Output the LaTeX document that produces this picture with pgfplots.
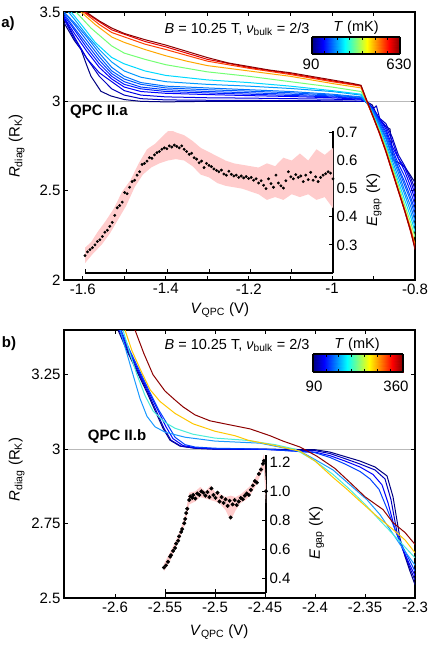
\documentclass[border=0pt]{standalone}
\usepackage{fontspec}
\setmainfont{Liberation Sans}
\usepackage{pgfplots}
\pgfplotsset{compat=1.18}

\definecolor{cA}{rgb}{0,0,0.5}
\definecolor{cB}{rgb}{0,0,0.75}
\definecolor{cC}{rgb}{0,0,0.9}
\definecolor{cD}{rgb}{0,0,1}
\definecolor{cE}{rgb}{0,0.12,1}
\definecolor{cF}{rgb}{0,0.25,1}
\definecolor{cG}{rgb}{0,0.35,1}
\definecolor{cH}{rgb}{0,0.45,1}
\definecolor{cI}{rgb}{0,0.6,1}
\definecolor{cJ}{rgb}{0,0.85,1}
\definecolor{cK}{rgb}{0.45,1,0.45}
\definecolor{cL}{rgb}{1,0.65,0}
\definecolor{cM}{rgb}{1,0.25,0}
\definecolor{cN}{rgb}{0.9,0,0}
\definecolor{cO}{rgb}{0.55,0,0}
\definecolor{byel}{rgb}{1,0.78,0}
\definecolor{bcyan}{rgb}{0.3,0.93,0.85}
\definecolor{blight}{rgb}{0.1,0.6,1}
\definecolor{bandpink}{rgb}{1,0.8,0.8}

\newcommand{\fs}{\fontsize{15}{17}\selectfont}
\newcommand{\fst}{\fontsize{14.5}{17}\selectfont}

\pgfplotsset{
  mainax/.style={
    scale only axis, width=351pt, height=268pt, anchor=north west,
    axis line style={line width=1.2pt},
    tick style={line width=0.8pt, black},
    tick align=inside, major tick length=4pt, minor tick length=4pt,
    tick label style={font=\fs},
    label style={font=\fs},
    /pgf/number format/assume math mode=true,
    extra y ticks={3}, extra y tick labels={},
    extra y tick style={grid=major, major grid style={gray!55, line width=0.7pt}},
    every axis plot/.append style={line width=1pt, line join=round, mark=none},
  },
  insetax/.style={
    scale only axis, anchor=north west,
    axis x line=bottom, axis y line=right,
    axis line style={-, line width=1.2pt},
    x axis line style={-}, y axis line style={-},
    tick style={line width=0.8pt, black},
    tick align=inside, major tick length=4pt,
    xticklabels={},
    tick label style={font=\fs},
    label style={font=\fs},
    /pgf/number format/assume math mode=true,
    yticklabel style={/pgf/number format/.cd, fixed, fixed zerofill, precision=1},
  },
  cbar/.style={
    scale only axis, anchor=north west, view={0}{90},
    ymin=0, ymax=1, ytick=\empty, colormap/jet,
    axis line style={line width=1.2pt},
    tick style={line width=0.7pt, black},
    tick align=inside, major tick length=3pt,
    extra x tick style={tick align=inside, major tick length=3pt},
    xticklabels={}, extra x tick labels={},
  },
}

\begin{document}
\begin{tikzpicture}
\useasboundingbox (0,0) rectangle (436pt,-653pt);

% ---------------- panel a ----------------
\begin{axis}[mainax, at={(64pt,-12pt)},
  xmin=-1.645, xmax=-0.8, ymin=2, ymax=3.5,
  xtick={-1.6,-1.4,-1.2,-1,-0.8}, minor x tick num=1,
  ytick={2,2.5,3,3.5},
  xlabel={\textit{V}\textsubscript{QPC} (V)},
  ylabel={\textit{R}\textsubscript{diag} (R\textsubscript{K})},
  xlabel style={at={(axis description cs:0.444,-0.112)}, anchor=center},
  ylabel style={at={(axis description cs:-0.135,0.5)}, anchor=center},
]
\addplot[cA] coordinates {(-1.645,3.44) (-1.635,3.40) (-1.62,3.34) (-1.604,3.29) (-1.59,3.20) (-1.58,3.14) (-1.556,3.056) (-1.532,3.03) (-1.50,3.01) (-1.46,3.0) (-1.40,2.997) (-1.30,3.0) (-1.20,3.0) (-1.10,3.0) (-1.00,3.0) (-0.93,3.0) (-0.918,3.0) (-0.903,2.98) (-0.896,2.945) (-0.885,2.90) (-0.872,2.86) (-0.86,2.845) (-0.853,2.67) (-0.841,2.66) (-0.824,2.63) (-0.812,2.59) (-0.80,2.545)};
\addplot[cB] coordinates {(-1.645,3.47) (-1.62,3.36) (-1.59,3.24) (-1.56,3.14) (-1.53,3.07) (-1.50,3.035) (-1.46,3.015) (-1.40,3.008) (-1.30,3.006) (-1.20,3.005) (-1.10,3.004) (-1.00,3.003) (-0.93,3.0) (-0.92,3.0) (-0.91,2.985) (-0.90,2.96) (-0.893,2.975) (-0.885,2.905) (-0.87,2.875) (-0.855,2.80) (-0.84,2.70) (-0.825,2.64) (-0.81,2.57) (-0.80,2.51)};
\addplot[cC] coordinates {(-1.645,3.46) (-1.62,3.35) (-1.59,3.24) (-1.56,3.16) (-1.53,3.11) (-1.50,3.06) (-1.46,3.035) (-1.40,3.025) (-1.30,3.02) (-1.20,3.018) (-1.10,3.015) (-1.00,3.012) (-0.93,3.008) (-0.92,3.0) (-0.91,2.985) (-0.90,2.955) (-0.885,2.90) (-0.87,2.86) (-0.855,2.78) (-0.84,2.68) (-0.825,2.63) (-0.81,2.55) (-0.80,2.48)};
\addplot[cD] coordinates {(-1.645,3.47) (-1.62,3.38) (-1.59,3.28) (-1.56,3.19) (-1.53,3.125) (-1.50,3.08) (-1.46,3.055) (-1.40,3.045) (-1.30,3.038) (-1.20,3.032) (-1.10,3.027) (-1.00,3.02) (-0.93,3.012) (-0.92,3.0) (-0.91,2.98) (-0.90,2.955) (-0.885,2.90) (-0.87,2.845) (-0.855,2.75) (-0.84,2.68) (-0.825,2.61) (-0.81,2.52) (-0.80,2.45)};
\addplot[cE] coordinates {(-1.645,3.48) (-1.62,3.40) (-1.59,3.30) (-1.56,3.21) (-1.53,3.14) (-1.50,3.095) (-1.46,3.07) (-1.40,3.055) (-1.30,3.047) (-1.20,3.04) (-1.10,3.033) (-1.00,3.025) (-0.93,3.015) (-0.92,3.0) (-0.91,2.98) (-0.90,2.95) (-0.885,2.89) (-0.87,2.83) (-0.855,2.735) (-0.84,2.65) (-0.825,2.58) (-0.81,2.49) (-0.80,2.42)};
\addplot[cF] coordinates {(-1.645,3.49) (-1.62,3.41) (-1.59,3.32) (-1.56,3.23) (-1.53,3.155) (-1.50,3.11) (-1.46,3.08) (-1.40,3.065) (-1.30,3.055) (-1.20,3.048) (-1.10,3.04) (-1.00,3.03) (-0.93,3.018) (-0.92,3.0) (-0.91,2.975) (-0.90,2.95) (-0.885,2.885) (-0.87,2.815) (-0.855,2.72) (-0.84,2.63) (-0.825,2.55) (-0.81,2.46) (-0.80,2.39)};
\addplot[cG] coordinates {(-1.645,3.50) (-1.62,3.43) (-1.59,3.34) (-1.56,3.25) (-1.53,3.17) (-1.50,3.125) (-1.46,3.095) (-1.40,3.075) (-1.30,3.065) (-1.20,3.057) (-1.10,3.048) (-1.00,3.035) (-0.93,3.022) (-0.92,3.0) (-0.91,2.975) (-0.90,2.945) (-0.885,2.875) (-0.87,2.80) (-0.855,2.70) (-0.84,2.62) (-0.825,2.53) (-0.81,2.44) (-0.80,2.36)};
\addplot[cH] coordinates {(-1.645,3.50) (-1.62,3.44) (-1.59,3.36) (-1.56,3.27) (-1.53,3.19) (-1.50,3.14) (-1.46,3.105) (-1.40,3.085) (-1.30,3.075) (-1.20,3.065) (-1.10,3.055) (-1.00,3.04) (-0.93,3.025) (-0.92,3.0) (-0.91,2.975) (-0.90,2.94) (-0.885,2.865) (-0.87,2.79) (-0.855,2.69) (-0.84,2.60) (-0.825,2.50) (-0.81,2.41) (-0.80,2.33)};
\addplot[cI] coordinates {(-1.645,3.53) (-1.62,3.46) (-1.59,3.37) (-1.56,3.29) (-1.53,3.22) (-1.50,3.17) (-1.46,3.135) (-1.40,3.11) (-1.30,3.095) (-1.20,3.085) (-1.10,3.072) (-1.00,3.055) (-0.93,3.035) (-0.92,3.005) (-0.91,2.97) (-0.90,2.93) (-0.885,2.855) (-0.87,2.77) (-0.855,2.67) (-0.84,2.575) (-0.825,2.48) (-0.81,2.38) (-0.80,2.30)};
\addplot[cJ] coordinates {(-1.645,3.54) (-1.628,3.5) (-1.60,3.42) (-1.57,3.33) (-1.53,3.245) (-1.50,3.21) (-1.45,3.17) (-1.40,3.145) (-1.30,3.12) (-1.20,3.105) (-1.10,3.085) (-1.00,3.06) (-0.93,3.04) (-0.92,3.01) (-0.91,2.97) (-0.90,2.92) (-0.885,2.845) (-0.87,2.755) (-0.855,2.65) (-0.84,2.55) (-0.825,2.45) (-0.81,2.35) (-0.80,2.27)};
\addplot[cK] coordinates {(-1.645,3.57) (-1.616,3.5) (-1.58,3.41) (-1.53,3.31) (-1.50,3.27) (-1.45,3.235) (-1.40,3.205) (-1.35,3.185) (-1.30,3.165) (-1.20,3.14) (-1.10,3.11) (-1.00,3.08) (-0.93,3.055) (-0.92,3.015) (-0.91,2.965) (-0.90,2.915) (-0.885,2.835) (-0.87,2.74) (-0.855,2.635) (-0.84,2.53) (-0.825,2.42) (-0.81,2.32) (-0.80,2.24)};
\addplot[cL] coordinates {(-1.63,3.58) (-1.604,3.5) (-1.57,3.43) (-1.53,3.36) (-1.50,3.33) (-1.45,3.29) (-1.40,3.255) (-1.35,3.225) (-1.30,3.20) (-1.20,3.17) (-1.10,3.14) (-1.00,3.10) (-0.93,3.075) (-0.92,3.02) (-0.91,2.965) (-0.90,2.91) (-0.885,2.825) (-0.87,2.73) (-0.855,2.62) (-0.84,2.51) (-0.825,2.40) (-0.81,2.29) (-0.80,2.20)};
\addplot[cM] coordinates {(-1.625,3.58) (-1.598,3.5) (-1.56,3.43) (-1.53,3.385) (-1.45,3.32) (-1.40,3.29) (-1.30,3.225) (-1.20,3.185) (-1.10,3.15) (-1.00,3.11) (-0.93,3.085) (-0.92,3.02) (-0.91,2.965) (-0.90,2.91) (-0.885,2.82) (-0.87,2.72) (-0.855,2.61) (-0.84,2.50) (-0.825,2.39) (-0.81,2.275) (-0.80,2.19)};
\addplot[cN] coordinates {(-1.62,3.58) (-1.595,3.5) (-1.56,3.445) (-1.53,3.40) (-1.45,3.335) (-1.40,3.305) (-1.30,3.235) (-1.20,3.19) (-1.10,3.155) (-1.00,3.115) (-0.93,3.088) (-0.92,3.025) (-0.91,2.965) (-0.90,2.905) (-0.885,2.815) (-0.87,2.715) (-0.855,2.605) (-0.84,2.495) (-0.825,2.385) (-0.81,2.265) (-0.80,2.18)};
\addplot[cO] coordinates {(-1.62,3.58) (-1.592,3.5) (-1.56,3.45) (-1.53,3.41) (-1.50,3.38) (-1.45,3.345) (-1.40,3.315) (-1.35,3.28) (-1.30,3.245) (-1.25,3.215) (-1.20,3.195) (-1.15,3.175) (-1.10,3.16) (-1.05,3.14) (-1.00,3.12) (-0.95,3.10) (-0.93,3.09) (-0.92,3.03) (-0.91,2.97) (-0.90,2.91) (-0.885,2.82) (-0.87,2.72) (-0.855,2.61) (-0.84,2.50) (-0.825,2.39) (-0.81,2.27) (-0.80,2.17)};
\end{axis}

% inset a
\begin{axis}[insetax, at={(85pt,-131pt)}, width=248pt, height=142pt,
  xmin=-1.6, xmax=-1.0, ymin=0.2, ymax=0.705,
  xtick={-1.6,-1.5,-1.4,-1.3,-1.2,-1.1,-1.0},
  ytick={0.3,0.4,0.5,0.6,0.7},
  ylabel={\textit{E}\textsubscript{gap} (K)},
  ylabel style={at={(axis description cs:1.165,0.514)}, anchor=center},
]
\addplot[fill=bandpink, draw=none] coordinates {(-1.600,0.29) (-1.585,0.31) (-1.57,0.345) (-1.55,0.385) (-1.53,0.43) (-1.51,0.49) (-1.49,0.53) (-1.47,0.59) (-1.45,0.64) (-1.43,0.66) (-1.41,0.69) (-1.395,0.71) (-1.38,0.70) (-1.36,0.69) (-1.34,0.67) (-1.32,0.645) (-1.30,0.63) (-1.28,0.615) (-1.26,0.60) (-1.24,0.59) (-1.22,0.585) (-1.20,0.58) (-1.18,0.575) (-1.16,0.59) (-1.14,0.58) (-1.12,0.61) (-1.10,0.60) (-1.08,0.625) (-1.06,0.60) (-1.04,0.64) (-1.02,0.62) (-1.00,0.645) (-1.00,0.43) (-1.02,0.47) (-1.04,0.46) (-1.06,0.48) (-1.08,0.47) (-1.10,0.48) (-1.12,0.46) (-1.14,0.47) (-1.16,0.46) (-1.18,0.48) (-1.20,0.49) (-1.22,0.50) (-1.24,0.505) (-1.26,0.51) (-1.28,0.52) (-1.30,0.54) (-1.32,0.55) (-1.34,0.58) (-1.36,0.60) (-1.38,0.605) (-1.40,0.60) (-1.42,0.59) (-1.44,0.575) (-1.46,0.55) (-1.48,0.505) (-1.50,0.44) (-1.52,0.39) (-1.54,0.34) (-1.56,0.30) (-1.58,0.27) (-1.60,0.235)} -- cycle;
\addplot[only marks, mark=*, mark size=1.25pt, black] coordinates {
(-1.600,0.262) (-1.594,0.275) (-1.588,0.283) (-1.582,0.290) (-1.576,0.300) (-1.570,0.312) (-1.564,0.318) (-1.558,0.330) (-1.552,0.345) (-1.546,0.352)
(-1.540,0.366) (-1.534,0.380) (-1.528,0.405) (-1.522,0.432) (-1.516,0.440) (-1.510,0.452) (-1.504,0.486) (-1.498,0.482) (-1.492,0.505) (-1.486,0.525)
(-1.480,0.530) (-1.474,0.548) (-1.468,0.560) (-1.462,0.586) (-1.456,0.590) (-1.450,0.598) (-1.444,0.610) (-1.438,0.608) (-1.432,0.620) (-1.426,0.628)
(-1.420,0.632) (-1.414,0.640) (-1.408,0.645) (-1.402,0.642) (-1.396,0.652) (-1.390,0.648) (-1.384,0.655) (-1.378,0.650) (-1.372,0.645) (-1.366,0.652)
(-1.360,0.640) (-1.354,0.632) (-1.348,0.622) (-1.342,0.626) (-1.336,0.610) (-1.330,0.605) (-1.324,0.592) (-1.318,0.598) (-1.312,0.575) (-1.306,0.590)
(-1.300,0.583) (-1.294,0.578) (-1.288,0.570) (-1.282,0.565) (-1.276,0.560) (-1.270,0.566) (-1.264,0.552) (-1.258,0.548) (-1.252,0.562) (-1.246,0.551)
(-1.240,0.545) (-1.234,0.548) (-1.228,0.540) (-1.222,0.545) (-1.216,0.538) (-1.210,0.543) (-1.204,0.536) (-1.198,0.540) (-1.192,0.530) (-1.186,0.535)
(-1.180,0.520) (-1.174,0.528) (-1.168,0.512) (-1.162,0.500) (-1.156,0.535) (-1.150,0.518) (-1.144,0.505) (-1.138,0.548) (-1.132,0.520) (-1.126,0.510)
(-1.120,0.502) (-1.114,0.528) (-1.108,0.560) (-1.102,0.542) (-1.096,0.535) (-1.090,0.550) (-1.084,0.540) (-1.078,0.545) (-1.072,0.525) (-1.066,0.548)
(-1.060,0.532) (-1.054,0.558) (-1.048,0.530) (-1.042,0.542) (-1.036,0.525) (-1.030,0.540) (-1.024,0.548) (-1.018,0.553) (-1.012,0.560) (-1.006,0.555) (-1.000,0.535)};
\end{axis}

% colorbar a
\begin{axis}[cbar, at={(312pt,-37pt)}, width=88pt, height=17pt,
  xmin=90, xmax=630, xtick={90,630},
  extra x ticks={167,244,321,399,476,553}]
\addplot3[surf, shader=interp, mesh/cols=6, point meta=x] coordinates {
(90,0,0) (157.5,0,0) (292.5,0,0) (427.5,0,0) (562.5,0,0) (630,0,0)
(90,1,0) (157.5,1,0) (292.5,1,0) (427.5,1,0) (562.5,1,0) (630,1,0)};
\end{axis}

\node[font=\fs\bfseries] at (8pt,-24pt) {a)};
\node[font=\fs\bfseries] at (99pt,-112pt) {QPC II.a};
\node[font=\fst] at (237pt,-29pt) {\textit{B} = 10.25 T, \textit{ν}\textsubscript{bulk} = 2/3};
\node[font=\fst] at (356pt,-28pt) {\textit{T} (mK)};
\node[font=\fs] at (311pt,-64pt) {90};
\node[font=\fs] at (399pt,-64pt) {630};

% ---------------- panel b ----------------
\begin{axis}[mainax, at={(64pt,-330pt)},
  xmin=-2.651, xmax=-2.3, ymin=2.5, ymax=3.40,
  xtick={-2.6,-2.55,-2.5,-2.45,-2.4,-2.35,-2.3},
  ytick={2.5,2.75,3,3.25},
  xlabel={\textit{V}\textsubscript{QPC} (V)},
  ylabel={\textit{R}\textsubscript{diag} (R\textsubscript{K})},
  xlabel style={at={(axis description cs:0.442,-0.127)}, anchor=center},
  ylabel style={at={(axis description cs:-0.135,0.48)}, anchor=center},
]
\addplot[cA] coordinates {(-2.602,3.45) (-2.597,3.40) (-2.588,3.33) (-2.578,3.26) (-2.568,3.19) (-2.56,3.13) (-2.552,3.07) (-2.545,3.03) (-2.535,3.01) (-2.52,3.003) (-2.50,3.0) (-2.45,3.0) (-2.40,2.998) (-2.385,2.99) (-2.37,2.975) (-2.355,2.96) (-2.34,2.94) (-2.328,2.91) (-2.322,2.84) (-2.315,2.70) (-2.31,2.64) (-2.305,2.59) (-2.30,2.545)};
\addplot[cB] coordinates {(-2.601,3.45) (-2.596,3.40) (-2.587,3.33) (-2.577,3.26) (-2.567,3.19) (-2.559,3.13) (-2.551,3.07) (-2.544,3.03) (-2.534,3.01) (-2.52,3.003) (-2.50,3.0) (-2.45,2.999) (-2.40,2.995) (-2.385,2.985) (-2.37,2.968) (-2.355,2.95) (-2.34,2.93) (-2.33,2.90) (-2.324,2.83) (-2.318,2.72) (-2.312,2.66) (-2.305,2.60) (-2.30,2.56)};
\addplot[cD] coordinates {(-2.600,3.45) (-2.595,3.40) (-2.586,3.33) (-2.576,3.26) (-2.566,3.19) (-2.557,3.13) (-2.549,3.075) (-2.542,3.035) (-2.532,3.012) (-2.52,3.005) (-2.50,3.001) (-2.45,2.999) (-2.40,2.99) (-2.385,2.978) (-2.37,2.96) (-2.355,2.94) (-2.342,2.915) (-2.333,2.88) (-2.327,2.82) (-2.32,2.73) (-2.313,2.67) (-2.305,2.61) (-2.30,2.575)};
\addplot[cF] coordinates {(-2.599,3.45) (-2.594,3.40) (-2.585,3.33) (-2.575,3.26) (-2.565,3.19) (-2.556,3.13) (-2.547,3.08) (-2.54,3.04) (-2.53,3.015) (-2.52,3.007) (-2.50,3.003) (-2.45,3.0) (-2.40,2.988) (-2.385,2.972) (-2.37,2.95) (-2.355,2.925) (-2.345,2.90) (-2.336,2.865) (-2.328,2.80) (-2.32,2.73) (-2.312,2.67) (-2.30,2.59)};
\addplot[blight] coordinates {(-2.60,3.45) (-2.595,3.40) (-2.588,3.32) (-2.582,3.25) (-2.575,3.17) (-2.568,3.11) (-2.56,3.075) (-2.55,3.057) (-2.53,3.04) (-2.50,3.027) (-2.455,3.02) (-2.415,2.993) (-2.40,2.965) (-2.382,2.93) (-2.365,2.88) (-2.348,2.83) (-2.335,2.78) (-2.325,2.73) (-2.315,2.68) (-2.30,2.61)};
\addplot[bcyan] coordinates {(-2.598,3.45) (-2.592,3.40) (-2.585,3.32) (-2.578,3.25) (-2.57,3.18) (-2.562,3.128) (-2.55,3.09) (-2.54,3.07) (-2.522,3.05) (-2.50,3.037) (-2.47,3.03) (-2.44,3.015) (-2.42,3.0) (-2.40,2.96) (-2.382,2.915) (-2.367,2.87) (-2.35,2.815) (-2.335,2.76) (-2.318,2.70) (-2.30,2.635)};
\addplot[byel] coordinates {(-2.595,3.45) (-2.59,3.40) (-2.583,3.33) (-2.575,3.27) (-2.565,3.20) (-2.555,3.16) (-2.54,3.12) (-2.522,3.085) (-2.50,3.06) (-2.48,3.045) (-2.467,3.03) (-2.44,3.012) (-2.415,2.993) (-2.40,2.96) (-2.382,2.905) (-2.368,2.865) (-2.355,2.825) (-2.34,2.78) (-2.322,2.73) (-2.31,2.695) (-2.30,2.652)};
\addplot[cO] coordinates {(-2.585,3.45) (-2.58,3.40) (-2.571,3.32) (-2.562,3.25) (-2.55,3.195) (-2.54,3.165) (-2.532,3.142) (-2.52,3.115) (-2.505,3.095) (-2.48,3.078) (-2.465,3.068) (-2.445,3.045) (-2.432,3.027) (-2.415,3.007) (-2.398,2.976) (-2.38,2.935) (-2.365,2.888) (-2.35,2.84) (-2.332,2.797) (-2.322,2.753) (-2.31,2.72) (-2.30,2.68)};
\end{axis}

% inset b
\begin{axis}[insetax, at={(165pt,-455pt)}, width=101pt, height=138pt,
  xmin=-2.55, xmax=-2.45, ymin=0.3, ymax=1.25,
  xtick={-2.55,-2.5,-2.45},
  ytick={0.4,0.6,0.8,1.0,1.2},
  ylabel={\textit{E}\textsubscript{gap} (K)},
  ylabel style={at={(axis description cs:1.5,0.435)}, anchor=center},
  clip=false,
]
\addplot[fill=bandpink, draw=none] coordinates {(-2.551,0.50) (-2.545,0.58) (-2.54,0.65) (-2.535,0.73) (-2.53,0.84) (-2.526,0.99) (-2.52,1.0) (-2.515,1.03) (-2.51,1.0) (-2.505,1.04) (-2.50,0.99) (-2.495,0.98) (-2.49,0.96) (-2.485,0.97) (-2.48,0.96) (-2.475,0.98) (-2.47,1.01) (-2.465,1.04) (-2.46,1.10) (-2.455,1.17) (-2.452,1.26) (-2.45,1.05) (-2.45,0.92) (-2.452,1.15) (-2.455,1.12) (-2.46,1.04) (-2.465,0.98) (-2.47,0.94) (-2.475,0.92) (-2.48,0.87) (-2.485,0.80) (-2.49,0.87) (-2.495,0.91) (-2.50,0.93) (-2.505,0.94) (-2.51,0.95) (-2.515,0.96) (-2.52,0.93) (-2.526,0.91) (-2.53,0.78) (-2.535,0.68) (-2.54,0.60) (-2.545,0.52) (-2.551,0.45)} -- cycle;
\addplot[only marks, mark=*, mark size=1.8pt, black] coordinates {
(-2.551,0.475) (-2.549,0.490) (-2.547,0.515) (-2.545,0.550) (-2.544,0.560) (-2.542,0.590) (-2.540,0.610) (-2.539,0.640) (-2.537,0.660) (-2.536,0.690)
(-2.534,0.720) (-2.533,0.740) (-2.531,0.780) (-2.530,0.810) (-2.529,0.850) (-2.528,0.880) (-2.526,0.940) (-2.525,0.965) (-2.523,0.955) (-2.522,0.975)
(-2.520,0.950) (-2.518,0.985) (-2.516,0.975) (-2.514,1.000) (-2.512,0.990) (-2.510,0.970) (-2.508,0.995) (-2.506,0.960) (-2.504,1.020) (-2.502,0.975)
(-2.500,0.955) (-2.498,0.990) (-2.496,0.930) (-2.494,0.960) (-2.492,0.920) (-2.490,0.945) (-2.488,0.900) (-2.486,0.935) (-2.485,0.820) (-2.483,0.910)
(-2.481,0.940) (-2.479,0.905) (-2.477,0.930) (-2.475,0.955) (-2.473,0.945) (-2.471,0.970) (-2.469,0.985) (-2.467,0.975) (-2.465,1.010) (-2.463,1.040)
(-2.461,1.070) (-2.459,1.060) (-2.457,1.120) (-2.455,1.150) (-2.453,1.190) (-2.452,1.210) (-2.450,1.000)};
\end{axis}

% colorbar b
\begin{axis}[cbar, at={(313pt,-354pt)}, width=90pt, height=18pt,
  xmin=90, xmax=360, xtick={90,360},
  extra x ticks={129,167,206,244,283,321}]
\addplot3[surf, shader=interp, mesh/cols=6, point meta=x] coordinates {
(90,0,0) (123.75,0,0) (191.25,0,0) (258.75,0,0) (326.25,0,0) (360,0,0)
(90,1,0) (123.75,1,0) (191.25,1,0) (258.75,1,0) (326.25,1,0) (360,1,0)};
\end{axis}

\node[font=\fs\bfseries] at (9pt,-344pt) {b)};
\node[font=\fs\bfseries] at (117pt,-437pt) {QPC II.b};
\node[font=\fst] at (237pt,-345pt) {\textit{B} = 10.25 T, \textit{ν}\textsubscript{bulk} = 2/3};
\node[font=\fst] at (357pt,-345pt) {\textit{T} (mK)};
\node[font=\fs] at (314pt,-386pt) {90};
\node[font=\fs] at (396pt,-386pt) {360};

\end{tikzpicture}
\end{document}
